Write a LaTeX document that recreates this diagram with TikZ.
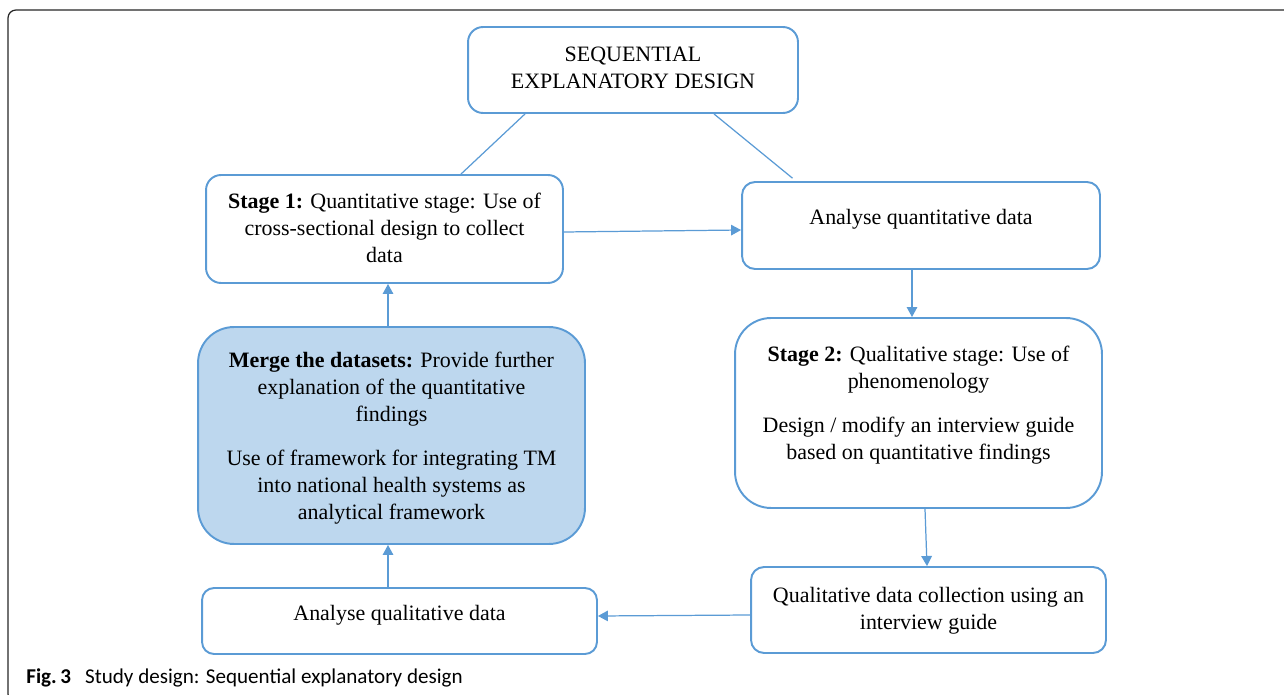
\documentclass[tikz,border=0pt]{standalone}
\usepackage{fontspec}
\setmainfont{Liberation Serif}
\newfontfamily\capfont{Carlito}
\usetikzlibrary{arrows.meta,positioning}
\definecolor{boxblue}{HTML}{5B9BD5}
\definecolor{mergefill}{HTML}{BDD7EE}

\begin{document}
\begin{tikzpicture}[x=0.02cm, y=-0.02cm, font=\fontsize{12.5}{15.3}\selectfont]
      \useasboundingbox (0,0) rectangle (1284,695);
      \draw[black!85, line width=0.7pt, rounded corners=0.16cm] (1300,10) -- (8,10) -- (8,702) -- (40,702);
      \begin{scope}[every node/.style={draw=boxblue, line width=1.1pt, rounded corners=0.3cm, align=center, inner sep=0pt}]
        \node[minimum width=6.6cm, minimum height=1.72cm, text depth=2.8pt] (design) at (633,70) {SEQUENTIAL\\ EXPLANATORY DESIGN};
        \node[minimum width=7.14cm, minimum height=2.16cm, text depth=1.5pt] (stage1) at (384.5,229) {\textbf{Stage 1:} Quantitative stage: Use of\\ cross-sectional design to collect\\ data};
        \node[minimum width=7.16cm, minimum height=1.74cm, rounded corners=0.26cm, text depth=10.1pt] (aquant) at (921,225.5) {Analyse quantitative data};
        \node[minimum width=7.74cm, minimum height=4.34cm, rounded corners=0.72cm, fill=mergefill, text depth=0pt] (merge) at (391.5,435.5) {\textbf{Merge the datasets:} Provide further\\ explanation of the quantitative\\ findings\\[10pt] Use of framework for integrating TM\\ into national health systems as\\ analytical framework};
        \node[minimum width=7.34cm, minimum height=3.8cm, rounded corners=0.72cm, text depth=11.8pt] (stage2) at (918.5,413) {\textbf{Stage 2:} Qualitative stage: Use of\\ phenomenology\\[9.6pt] Design / modify an interview guide\\ based on quantitative findings};
        \node[minimum width=7.1cm, minimum height=1.72cm, rounded corners=0.26cm, text depth=2.1pt] (qcoll) at (928.5,610) {Qualitative data collection using an\\ interview guide};
        \node[minimum width=7.9cm, minimum height=1.32cm, rounded corners=0.24cm, text depth=9.6pt] (aqual) at (399.5,621) {Analyse qualitative data};
      \end{scope}
      \begin{scope}
        [every edge/.style={draw=boxblue, line width=0.7pt},
        tip/.style={-{Triangle[length=5.7pt, width=6pt]}}]
        \path (design.south -| 525,0) edge (stage1.north -| 461,0);
        \path (design.south -| 714,0) edge[shorten >=0.09cm] (aquant.north -| 796,0);
        \path (stage1.east |- 0,232) edge[tip] (aquant.west |- 0,230);
        \path (aquant.south -| 912,0) edge[tip] (stage2.north -| 912,0);
        \path (stage2.south -| 925,0) edge[tip] (qcoll.north -| 927,0);
        \path (qcoll.west |- 0,615) edge[tip] (aqual.east |- 0,616);
        \path (aqual.north -| 388,0) edge[tip] (merge.south -| 388,0);
        \path (merge.north -| 388,0) edge[tip] (stage1.south -| 388,0);
      \end{scope}
      \node[anchor=base west, inner sep=0pt, font=\capfont\fontsize{12}{14}\selectfont] (caption) at (26,683) {\textbf{Fig.\,3}\hspace{8pt}Study design: Sequential explanatory design};
    \end{tikzpicture}
\end{document}
